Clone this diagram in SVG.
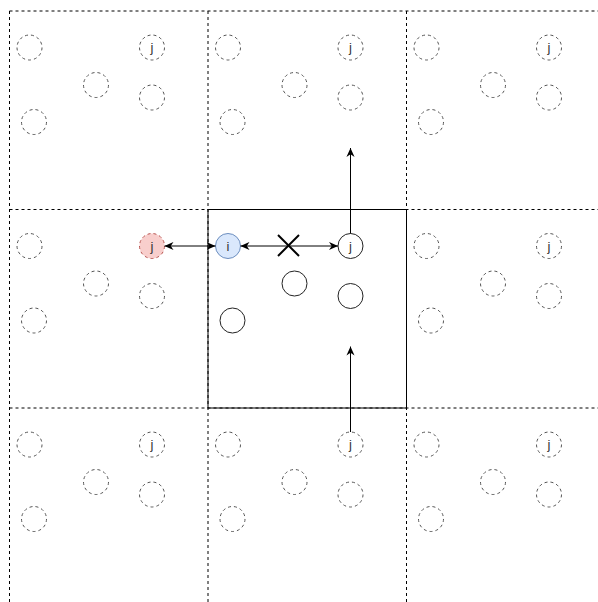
<svg xmlns="http://www.w3.org/2000/svg" width="598" height="602" viewBox="0 0 598 602">
<style>
.grid{stroke:#000;stroke-width:1;stroke-dasharray:3 3;fill:none}
.box{stroke:#000;stroke-width:1;fill:none}
.g{fill:#fff;stroke:#555;stroke-width:1;stroke-dasharray:3 3}
.s{fill:#fff;stroke:#222;stroke-width:1}
.blue{fill:#dae8fc;stroke:#6c8ebf;stroke-width:1}
.red{fill:#f8cecc;stroke:#b85450;stroke-width:1;stroke-dasharray:3 3}
.t{font-family:"Liberation Sans",Arial,sans-serif;font-size:13px;fill:#333;text-anchor:middle}
.e{stroke:#000;stroke-width:1;fill:none}
.x{stroke:#000;stroke-width:2;fill:none}
</style>
<defs>
<marker id="ah" viewBox="0 0 10 10" markerWidth="9" markerHeight="9" refX="10" refY="5" orient="auto-start-reverse" markerUnits="userSpaceOnUse">
<path d="M0,0.5 L10,5 L0,9.5 L3,5 z" fill="#000"/>
</marker>
</defs>
<rect width="598" height="602" fill="#fff"/>
<g id="grid">
<line class="grid" x1="9.5" y1="11" x2="598" y2="11"/>
<line class="grid" x1="9.5" y1="209.5" x2="598" y2="209.5"/>
<line class="grid" x1="9.5" y1="408" x2="598" y2="408"/>
<line class="grid" x1="9.5" y1="11" x2="9.5" y2="602"/>
<line class="grid" x1="208" y1="11" x2="208" y2="602"/>
<line class="grid" x1="406.5" y1="11" x2="406.5" y2="602"/>
<rect id="center-cell" class="box" x="208" y="209.5" width="198.5" height="198.5"/>
</g>
<g id="cell-0-0">
<circle class="g" cx="29.5" cy="47.5" r="12.5"/>
<g id="j-0-0"><circle class="g" cx="152" cy="47.5" r="12.5"/><text class="t" x="152" y="52">j</text></g>
<circle class="g" cx="96" cy="85" r="12.5"/>
<circle class="g" cx="152" cy="97.5" r="12.5"/>
<circle class="g" cx="34" cy="122" r="12.5"/>
</g>
<g id="cell-1-0">
<circle class="g" cx="228" cy="47.5" r="12.5"/>
<g id="j-1-0"><circle class="g" cx="350.5" cy="47.5" r="12.5"/><text class="t" x="350.5" y="52">j</text></g>
<circle class="g" cx="294.5" cy="85" r="12.5"/>
<circle class="g" cx="350.5" cy="97.5" r="12.5"/>
<circle class="g" cx="232.5" cy="122" r="12.5"/>
</g>
<g id="cell-2-0">
<circle class="g" cx="426.5" cy="47.5" r="12.5"/>
<g id="j-2-0"><circle class="g" cx="549" cy="47.5" r="12.5"/><text class="t" x="549" y="52">j</text></g>
<circle class="g" cx="493" cy="85" r="12.5"/>
<circle class="g" cx="549" cy="97.5" r="12.5"/>
<circle class="g" cx="431" cy="122" r="12.5"/>
</g>
<g id="cell-0-1">
<circle class="g" cx="29.5" cy="246" r="12.5"/>
<g id="node-j-red"><circle class="red" cx="152" cy="246" r="12.5"/><text class="t" x="152" y="250.5">j</text></g>
<circle class="g" cx="96" cy="283.5" r="12.5"/>
<circle class="g" cx="152" cy="296" r="12.5"/>
<circle class="g" cx="34" cy="320.5" r="12.5"/>
</g>
<g id="cell-1-1">
<g id="node-i"><circle class="blue" cx="228" cy="246" r="12.5"/><text class="t" x="228" y="250.5">i</text></g>
<g id="node-j"><circle class="s" cx="350.5" cy="246" r="12.5"/><text class="t" x="350.5" y="250.5">j</text></g>
<circle class="s" cx="294.5" cy="283.5" r="12.5"/>
<circle class="s" cx="350.5" cy="296" r="12.5"/>
<circle class="s" cx="232.5" cy="320.5" r="12.5"/>
</g>
<g id="cell-2-1">
<circle class="g" cx="426.5" cy="246" r="12.5"/>
<g id="j-2-1"><circle class="g" cx="549" cy="246" r="12.5"/><text class="t" x="549" y="250.5">j</text></g>
<circle class="g" cx="493" cy="283.5" r="12.5"/>
<circle class="g" cx="549" cy="296" r="12.5"/>
<circle class="g" cx="431" cy="320.5" r="12.5"/>
</g>
<g id="cell-0-2">
<circle class="g" cx="29.5" cy="444.5" r="12.5"/>
<g id="j-0-2"><circle class="g" cx="152" cy="444.5" r="12.5"/><text class="t" x="152" y="449">j</text></g>
<circle class="g" cx="96" cy="482" r="12.5"/>
<circle class="g" cx="152" cy="494.5" r="12.5"/>
<circle class="g" cx="34" cy="519" r="12.5"/>
</g>
<g id="cell-1-2">
<circle class="g" cx="228" cy="444.5" r="12.5"/>
<g id="j-1-2"><circle class="g" cx="350.5" cy="444.5" r="12.5"/><text class="t" x="350.5" y="449">j</text></g>
<circle class="g" cx="294.5" cy="482" r="12.5"/>
<circle class="g" cx="350.5" cy="494.5" r="12.5"/>
<circle class="g" cx="232.5" cy="519" r="12.5"/>
</g>
<g id="cell-2-2">
<circle class="g" cx="426.5" cy="444.5" r="12.5"/>
<g id="j-2-2"><circle class="g" cx="549" cy="444.5" r="12.5"/><text class="t" x="549" y="449">j</text></g>
<circle class="g" cx="493" cy="482" r="12.5"/>
<circle class="g" cx="549" cy="494.5" r="12.5"/>
<circle class="g" cx="431" cy="519" r="12.5"/>
</g>
<g id="connectors">
<line class="e" x1="164.5" y1="246" x2="215.5" y2="246" marker-start="url(#ah)" marker-end="url(#ah)"/>
<line class="e" x1="240.5" y1="246" x2="338" y2="246" marker-start="url(#ah)" marker-end="url(#ah)"/>
<line class="e" x1="350.5" y1="233.5" x2="350.5" y2="148" marker-end="url(#ah)"/>
<line class="e" x1="350.5" y1="432" x2="350.5" y2="346.5" marker-end="url(#ah)"/>
</g>
<g id="cross">
<line class="x" x1="278" y1="235" x2="299" y2="256"/>
<line class="x" x1="299" y1="235" x2="278" y2="256"/>
</g>
</svg>
